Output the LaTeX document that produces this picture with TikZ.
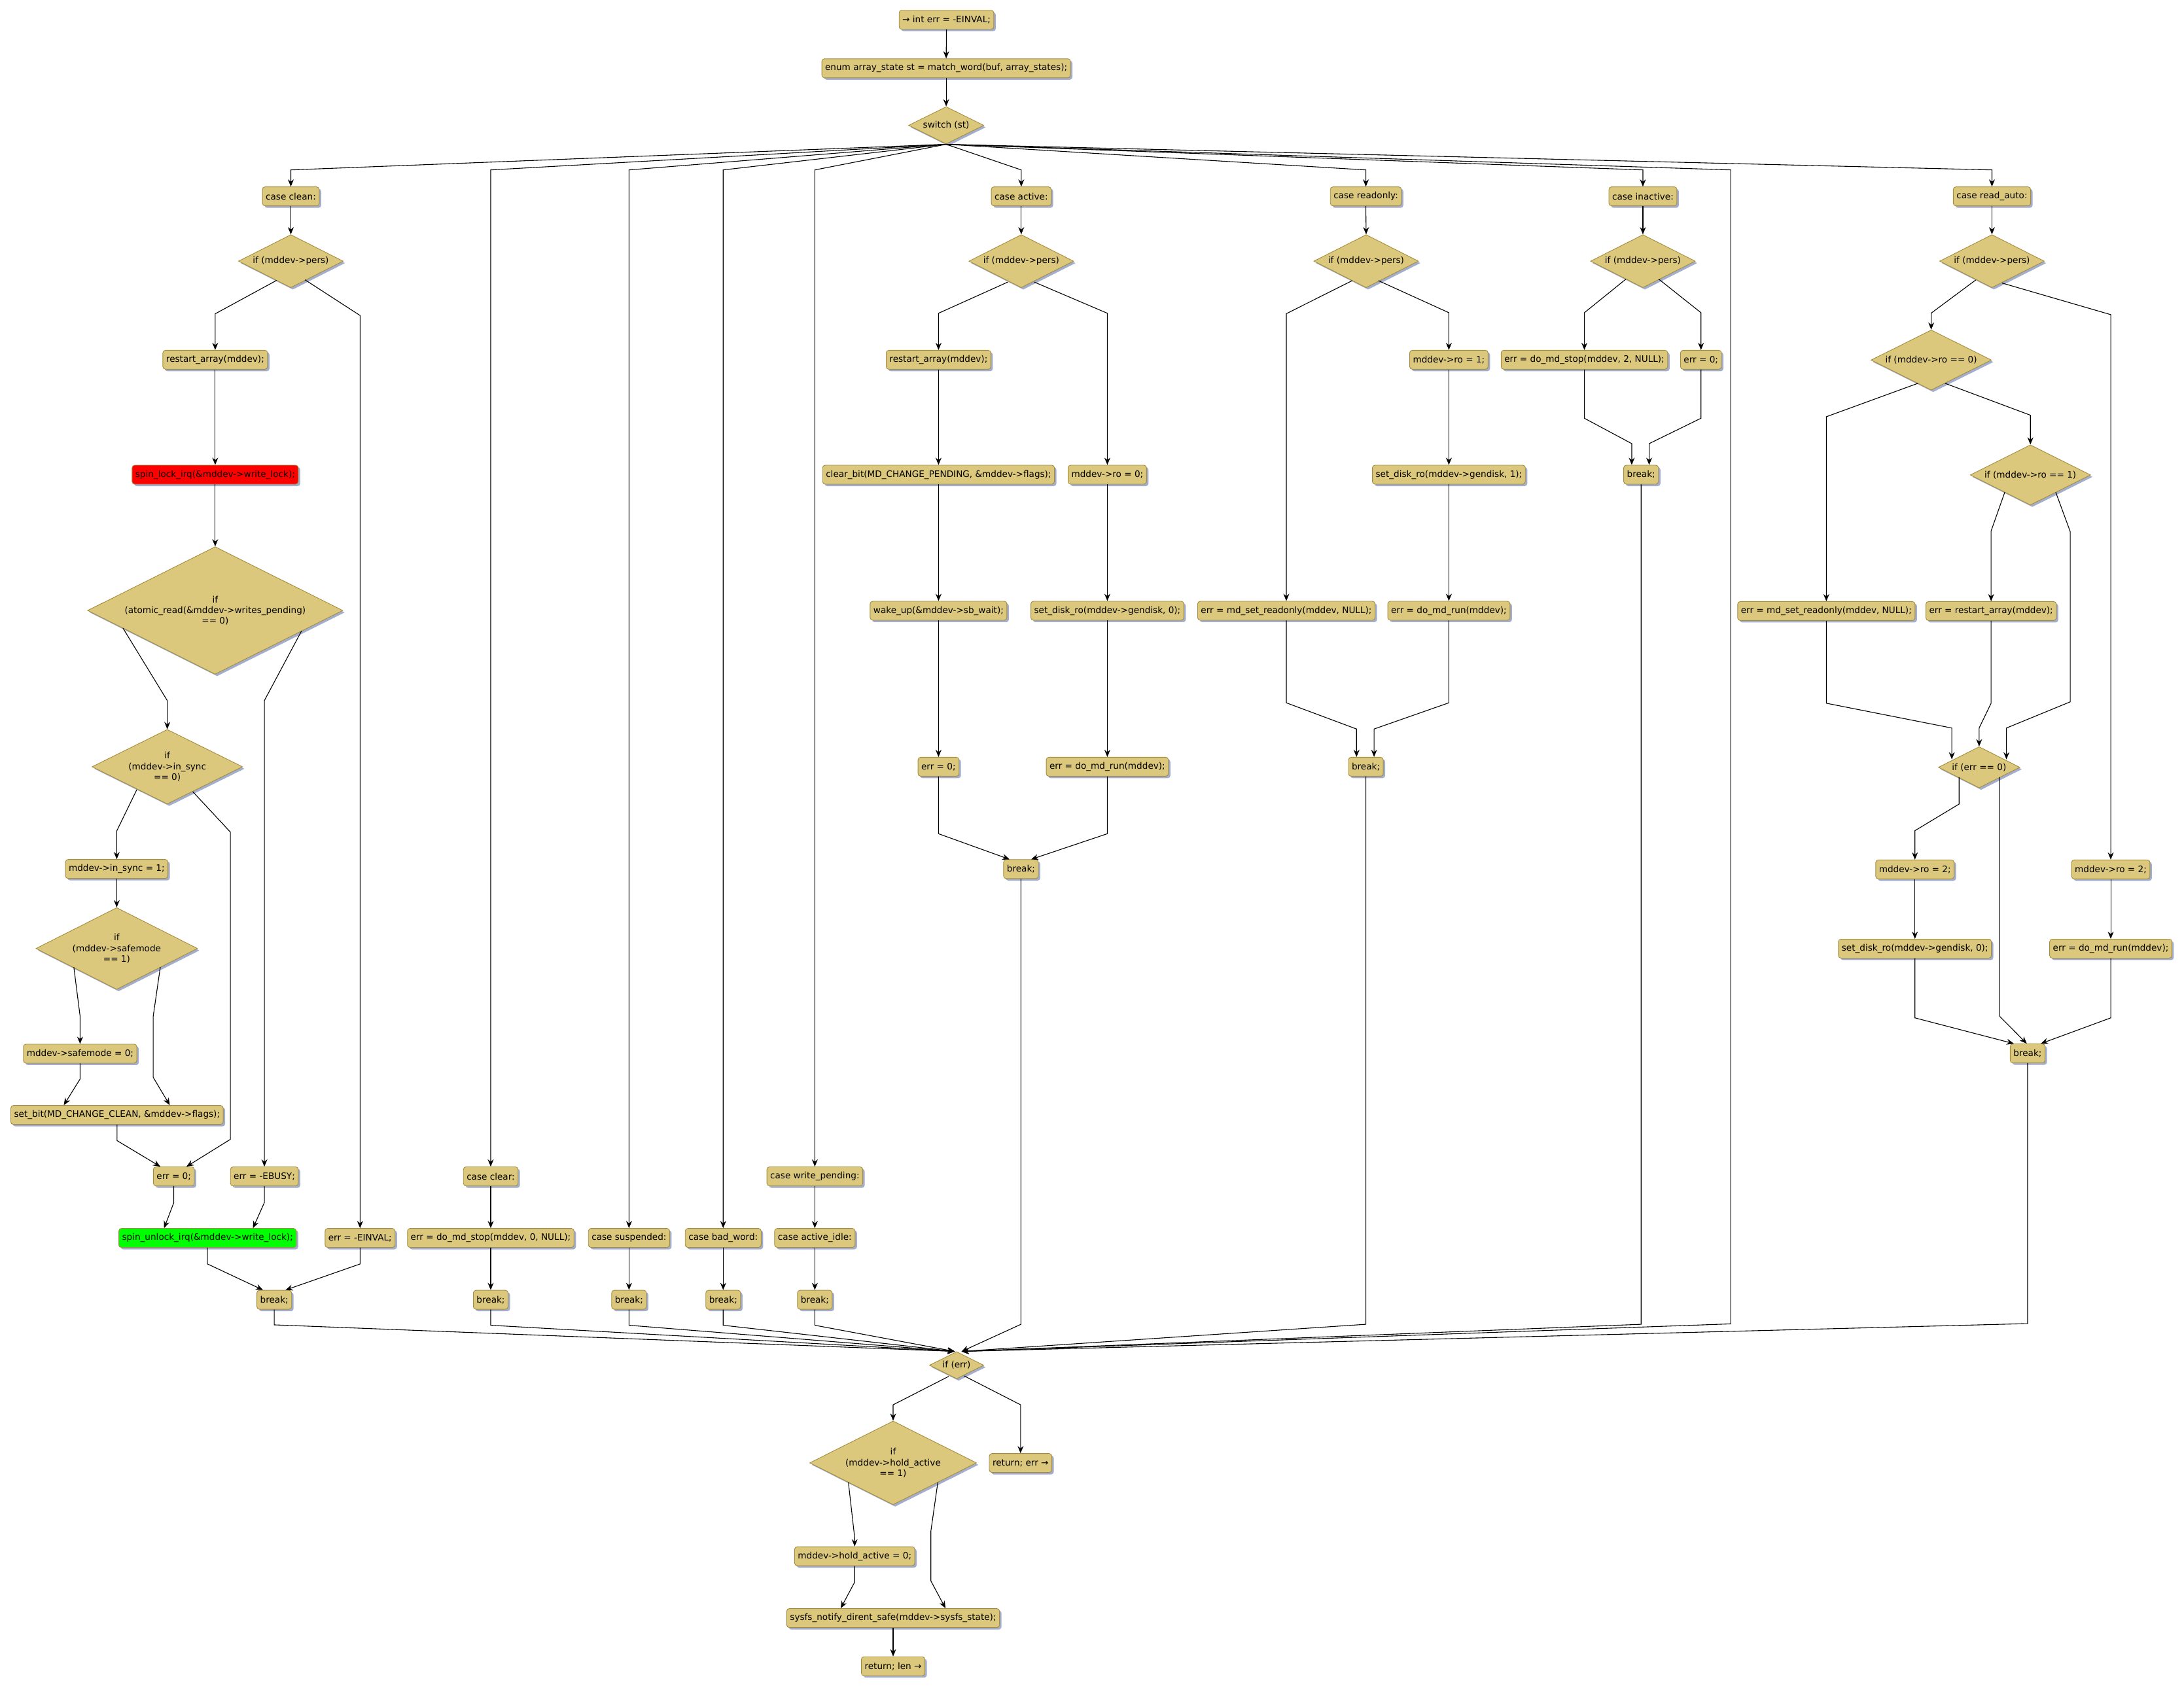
\documentclass[tikz,border=0pt]{standalone}
\usepackage{fontspec}
\setmainfont{DejaVu Sans}
\usetikzlibrary{shapes.geometric,shadows,arrows.meta,calc}
\definecolor{tanf}{RGB}{219,200,125}
\definecolor{bord}{RGB}{164,140,60}
\definecolor{shad}{RGB}{163,174,206}
\definecolor{lockred}{RGB}{255,0,0}
\definecolor{lockgreen}{RGB}{0,255,0}
\newcommand\nf{\fontsize{13.6pt}{16.3pt}\selectfont}
\begin{document}
\begin{tikzpicture}[x=2.1288pt,y=-2.1288pt,
  shadowed/.style={drop shadow={shadow xshift=3pt,shadow yshift=-3pt,fill=shad,opacity=1}},
  box/.style={draw=bord,fill=tanf,rounded corners=4pt,line width=0.9pt,minimum height=29pt,
    inner xsep=5pt,inner ysep=0pt,font=\nf,shadowed},
  dia/.style={diamond,aspect=2,draw=bord,fill=tanf,inner sep=0pt,line width=0.9pt,align=center,
    font=\nf,shadowed},
  conn/.style={line width=1.1pt,-{Stealth[length=11pt,width=9pt]}}]
\fill[white] (0,0) rectangle (1568,1211.9);
\useasboundingbox (0,0) rectangle (1568,1211.9);

% top
\node[box] (n1) at (679.5,14.2) {→ int err = -EINVAL;};
\node[box] (n2) at (679.3,49) {enum array\_state st = match\_word(buf, array\_states);};
\node[dia,minimum width=115pt,minimum height=57pt] (sw) at (679.3,90) {switch (st)};

% case clean
\node[box] (kclean) at (208.8,141) {case clean:};
\node[dia,minimum width=160pt,minimum height=81pt] (ccif) at (208.8,187.5) {if (mddev->pers)};
\node[box] (ccra) at (154.5,258.3) {restart\_array(mddev);};
\node[box,fill=lockred] (cclk) at (154.5,340.8) {spin\_lock\_irq(\&mddev->write\_lock);};
\node[dia,minimum width=390pt,minimum height=195pt] (ccat) at (154.5,438.3) {if\\(atomic\_read(\&mddev->writes\_pending)\\== 0)};
\node[dia,minimum width=230pt,minimum height=114pt] (ccis) at (120.1,550.5) {if\\(mddev->in\_sync\\== 0)};
\node[box] (ccs1) at (83.8,623.9) {mddev->in\_sync = 1;};
\node[dia,minimum width=247pt,minimum height=125pt] (ccsm) at (83.8,681) {if\\(mddev->safemode\\== 1)};
\node[box] (ccs0) at (57.5,756.5) {mddev->safemode = 0;};
\node[box] (ccsb) at (84,800.5) {set\_bit(MD\_CHANGE\_CLEAN, \&mddev->flags);};
\node[box] (cce0) at (124.8,844.6) {err = 0;};
\node[box] (cceb) at (189.8,844.6) {err = -EBUSY;};
\node[box,fill=lockgreen] (ccul) at (149,888.8) {spin\_unlock\_irq(\&mddev->write\_lock);};
\node[box] (ccei) at (258.5,888.8) {err = -EINVAL;};
\node[box] (ccbr) at (196.9,933.2) {break;};

% clear, suspended, bad_word, write_pending
\node[box] (kclear) at (352.3,844.6) {case clear:};
\node[box] (cl2) at (352.3,888.8) {err = do\_md\_stop(mddev, 0, NULL);};
\node[box] (clbr) at (352.3,933.2) {break;};
\node[box] (ksusp) at (451.6,888.8) {case suspended:};
\node[box] (subr) at (451.6,933.2) {break;};
\node[box] (kbad) at (519.2,888.8) {case bad\_word:};
\node[box] (bwbr) at (519.2,933.2) {break;};
\node[box] (kwp) at (585,844.6) {case write\_pending:};
\node[box] (kai) at (585,888.8) {case active\_idle:};
\node[box] (aibr) at (585,933.2) {break;};

% case active
\node[box] (kact) at (733.2,141) {case active:};
\node[dia,minimum width=160pt,minimum height=81pt] (caif) at (733.2,187.5) {if (mddev->pers)};
\node[box] (cara) at (673.8,258.3) {restart\_array(mddev);};
\node[box] (cacb) at (673.8,340.8) {clear\_bit(MD\_CHANGE\_PENDING, \&mddev->flags);};
\node[box] (cawu) at (673.8,438.5) {wake\_up(\&mddev->sb\_wait);};
\node[box] (cae0) at (673.8,550.5) {err = 0;};
\node[box] (caro) at (795,340.8) {mddev->ro = 0;};
\node[box] (casd) at (795,438.5) {set\_disk\_ro(mddev->gendisk, 0);};
\node[box] (carun) at (795,550.5) {err = do\_md\_run(mddev);};
\node[box] (cabr) at (733,624) {break;};

% case readonly
\node[box] (kro) at (980.6,141) {case readonly:};
\node[dia,minimum width=160pt,minimum height=81pt] (roif) at (980.8,187.5) {if (mddev->pers)};
\node[box] (ro1) at (1040.2,258.3) {mddev->ro = 1;};
\node[box] (rosd) at (1040.2,340.8) {set\_disk\_ro(mddev->gendisk, 1);};
\node[box] (rorun) at (1040.2,438.5) {err = do\_md\_run(mddev);};
\node[box] (rosr) at (923.5,438.5) {err = md\_set\_readonly(mddev, NULL);};
\node[box] (robr) at (980.6,550.5) {break;};

% case inactive
\node[box] (kinact) at (1179.5,141) {case inactive:};
\node[dia,minimum width=160pt,minimum height=81pt] (inif) at (1179.5,187.5) {if (mddev->pers)};
\node[box] (inst) at (1137.5,258.3) {err = do\_md\_stop(mddev, 2, NULL);};
\node[box] (ine0) at (1221.2,258.3) {err = 0;};
\node[box] (inbr) at (1178.2,340.8) {break;};

% case read_auto
\node[box] (kra) at (1430.1,141) {case read\_auto:};
\node[dia,minimum width=160pt,minimum height=81pt] (raif) at (1430.1,187.5) {if (mddev->pers)};
\node[dia,minimum width=184pt,minimum height=92pt] (rar0) at (1386.5,258.5) {if (mddev->ro == 0)};
\node[dia,minimum width=184pt,minimum height=92pt] (rar1) at (1457.7,341) {if (mddev->ro == 1)};
\node[box] (rasr) at (1311.2,438.7) {err = md\_set\_readonly(mddev, NULL);};
\node[box] (rara) at (1429.5,438.7) {err = restart\_array(mddev);};
\node[dia,minimum width=124.5pt,minimum height=63pt] (rae) at (1420.9,550.9) {if (err == 0)};
\node[box] (ra2a) at (1374.8,624.2) {mddev->ro = 2;};
\node[box] (rasd) at (1374.8,681.1) {set\_disk\_ro(mddev->gendisk, 0);};
\node[box] (ra2b) at (1515.4,624.2) {mddev->ro = 2;};
\node[box] (rarun) at (1515.4,681.1) {err = do\_md\_run(mddev);};
\node[box] (rabr) at (1455.7,756.3) {break;};

% bottom
\node[dia,minimum width=83pt,minimum height=41.4pt] (ife) at (686.8,980.2) {if (err)};
\node[dia,minimum width=255pt,minimum height=128pt] (iha) at (641.2,1050.3) {if\\(mddev->hold\_active\\== 1)};
\node[box] (ret) at (732.7,1050.4) {return; err →};
\node[box] (ha0) at (613.6,1117.3) {mddev->hold\_active = 0;};
\node[box] (sys) at (641.2,1161.7) {sysfs\_notify\_dirent\_safe(mddev->sysfs\_state);};
\node[box] (rl) at (641.2,1196.3) {return; len →};

\coordinate (ifeL) at ($(ife.north)+(-1.3,0)$);
\coordinate (ifeR) at ($(ife.north)+(3.6,0)$);

% ---- connectors ----
\draw[conn] (n1.south) -- (n2.north);
\draw[conn] (n2.south) -- (sw.north);
\foreach \t/\x in {kclean/208.8,kclear/352.3,ksusp/451.6,kbad/519.2,kwp/585,kact/733.2,kro/980.6,kinact/1179.5,kra/1430.1}
  \draw[conn] (sw.south) -- (\x,122) -- (\t.north);
\draw[conn] (sw.south) -- (1242.5,122) -- (1242.5,950.5) -- (ifeR);

% clean
\draw[conn] (kclean.south) -- (ccif.north);
\draw[conn] ($(ccif)+(-10.2,13.8)$) -- (154.5,225.3) -- (ccra.north);
\draw[conn] ($(ccif)+(10.2,13.4)$) -- (258.5,226.5) -- (ccei.north);
\draw[conn] (ccra.south) -- (cclk.north);
\draw[conn] (cclk.south) -- (ccat.north);
\draw[conn] ($(ccat)+(-66.2,12.7)$) -- (120.1,503) -- (ccis.north);
\draw[conn] ($(ccat)+(62,14.7)$) -- (189.8,503) -- (cceb.north);
\draw[conn] ($(ccis)+(-21.9,16.5)$) -- (83.8,596.6) -- (ccs1.north);
\draw[conn] ($(ccis)+(18.3,17.9)$) -- (165.4,597.4) -- (165.4,818) -- ($(cce0.north)+(9.1,0)$);
\draw[conn] (ccs1.south) -- (ccsm.north);
\draw[conn] ($(ccsm)+(-30.8,13.3)$) -- (57.5,729.6) -- (ccs0.north);
\draw[conn] ($(ccsm)+(31.3,13.3)$) -- (110,729.6) -- (110,773.5) -- ($(ccsb.north)+(37.9,0)$);
\draw[conn] (ccs0.south) -- (57.5,774.7) -- ($(ccsb.north)+(-38.2,0)$);
\draw[conn] (ccsb.south) -- (84,818.9) -- ($(cce0.north)+(-9.7,0)$);
\draw[conn] (cce0.south) -- (124.8,863.4) -- ($(ccul.north)+(-31.2,0)$);
\draw[conn] (cceb.south) -- (189.8,863.4) -- ($(ccul.north)+(32.6,0)$);
\draw[conn] (ccul.south) -- (149,907.5) -- ($(ccbr.north)+(-8.1,0)$);
\draw[conn] (ccei.south) -- (258.5,907.5) -- ($(ccbr.north)+(8.1,0)$);
\draw[conn] (ccbr.south) -- (196.9,951.2) -- (ifeL);

% clear etc.
\draw[conn] (kclear.south) -- (cl2.north);
\draw[conn] (cl2.south) -- (clbr.north);
\draw[conn] (clbr.south) -- (352.3,951.5) -- (ifeL);
\draw[conn] (ksusp.south) -- (subr.north);
\draw[conn] (subr.south) -- (451.6,951.5) -- (ifeL);
\draw[conn] (kbad.south) -- (bwbr.north);
\draw[conn] (bwbr.south) -- (519.2,951.5) -- (ifeL);
\draw[conn] (kwp.south) -- (kai.north);
\draw[conn] (kai.south) -- (aibr.north);
\draw[conn] (aibr.south) -- (585,951.5) -- (ifeL);

% active
\draw[conn] (kact.south) -- (caif.north);
\draw[conn] ($(caif)+(-9.6,15)$) -- (673.8,224.9) -- (cara.north);
\draw[conn] ($(caif)+(9.3,15)$) -- (795,224.9) -- (caro.north);
\draw[conn] (cara.south) -- (cacb.north);
\draw[conn] (cacb.south) -- (cawu.north);
\draw[conn] (cawu.south) -- (cae0.north);
\draw[conn] (caro.south) -- (casd.north);
\draw[conn] (casd.south) -- (carun.north);
\draw[conn] (cae0.south) -- (673.8,598.6) -- ($(cabr.north)+(-8.2,0)$);
\draw[conn] (carun.south) -- (795,598.6) -- ($(cabr.north)+(7.3,0)$);
\draw[conn] (cabr.south) -- (733,950.8) -- (ifeR);

% readonly
\draw[conn] (kro.south) -- (roif.north);
\draw[conn] ($(roif)+(-10,14)$) -- (923.5,225.2) -- (rosr.north);
\draw[conn] ($(roif)+(8.8,14)$) -- (1040.2,224.5) -- (ro1.north);
\draw[conn] (ro1.south) -- (rosd.north);
\draw[conn] (rosd.south) -- (rorun.north);
\draw[conn] (rosr.south) -- (923.5,504.6) -- (973.9,523.4) -- ($(robr.north)+(-6.7,0)$);
\draw[conn] (rorun.south) -- (1040.2,504.6) -- (986.5,523.4) -- ($(robr.north)+(5.9,0)$);
\draw[conn] (robr.south) -- (980.6,950.8) -- (ifeR);

% inactive
\draw[conn] (kinact.south) -- (inif.north);
\draw[conn] ($(inif)+(-12.3,13)$) -- (1137.5,224.5) -- (inst.north);
\draw[conn] ($(inif)+(11.5,13)$) -- (1221.2,224.5) -- (ine0.north);
\draw[conn] (inst.south) -- (1137.5,300.3) -- (1171.5,318.5) -- ($(inbr.north)+(-6.7,0)$);
\draw[conn] (ine0.south) -- (1221.2,300.3) -- (1184,318.5) -- ($(inbr.north)+(5.8,0)$);
\draw[conn] (inbr.south) -- (1178.2,950.8) -- (ifeR);

% read_auto
\draw[conn] (kra.south) -- (raif.north);
\draw[conn] ($(raif)+(-11.6,13.5)$) -- (1386.5,224.8) -- (rar0.north);
\draw[conn] ($(raif)+(7.2,15.7)$) -- (1515.4,225.9) -- (ra2b.north);
\draw[conn] ($(rar0)+(-9.5,16.7)$) -- (1311.2,299.2) -- (rasr.north);
\draw[conn] ($(rar0)+(9.9,16.7)$) -- (1457.7,298.1) -- (rar1.north);
\draw[conn] ($(rar1)+(-18.4,12.4)$) -- (1429.5,381.2) -- (rara.north);
\draw[conn] ($(rar1)+(18.2,12.4)$) -- (1486.3,381.7) -- (1486.3,503.9) -- (1440.5,522.7) -- ($(rae)+(19.6,-5.7)$);
\draw[conn] (rasr.south) -- (1311.2,504.9) -- (1401.3,522.7) -- ($(rae)+(-19.6,-5.7)$);
\draw[conn] (rara.south) -- (1429.5,504.9) -- (1420.9,522.7) -- (rae.north);
\draw[conn] ($(rae)+(-14.4,7.1)$) -- (1406.5,577.3) -- (1374.8,596.4) -- (ra2a.north);
\draw[conn] ($(rae)+(14.8,7.1)$) -- (1435.7,729.7) -- ($(rabr.north)+(-0.6,0)$);
\draw[conn] (ra2a.south) -- (rasd.north);
\draw[conn] (rasd.south) -- (1374.8,730.8) -- ($(rabr.north)+(-9.9,0)$);
\draw[conn] (ra2b.south) -- (rarun.north);
\draw[conn] (rarun.south) -- (1515.4,730.8) -- ($(rabr.north)+(9.5,0)$);
\draw[conn] (rabr.south) -- (1455.7,950.3) -- (ifeR);

% bottom
\draw[conn] ($(ife)+(-5.7,8)$) -- (641.2,1008.6) -- (iha.north);
\draw[conn] ($(ife)+(5.3,7.6)$) -- (732.7,1008.6) -- (ret.north);
\draw[conn] ($(iha)+(-32.1,14)$) -- (613.6,1104) -- (ha0.north);
\draw[conn] ($(iha)+(32.1,14)$) -- (668.3,1099.4) -- (668.3,1135) -- ($(sys.north)+(37.6,0)$);
\draw[conn] (ha0.south) -- (613.6,1135.9) -- ($(sys.north)+(-37.6,0)$);
\draw[conn] (sys.south) -- (rl.north);
\end{tikzpicture}
\end{document}
